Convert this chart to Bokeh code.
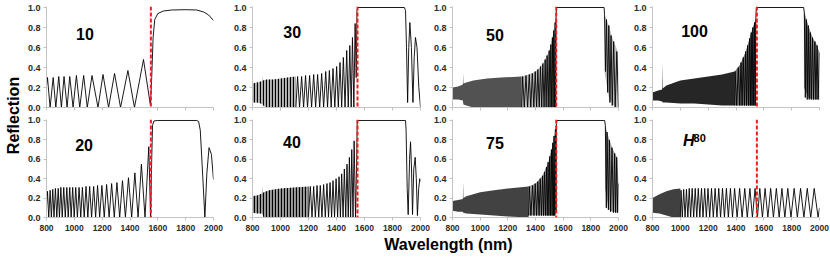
import math
from bokeh.plotting import figure
from bokeh.layouts import row, column
from bokeh.models import Range1d, FixedTicker, PrintfTickFormatter, Span, Label
from bokeh.embed import file_html
from bokeh.resources import INLINE

# ---------------- data ----------------
x_ticks = [800, 1000, 1200, 1400, 1600, 1800, 2000]
y_ticks = [0.0, 0.2, 0.4, 0.6, 0.8, 1.0]
marker_nm = 1550

# panel "10"
wl_10 = [800, 807, 826, 848, 867, 888, 907, 926, 948, 967, 991, 1015, 1039, 1067, 1093, 1127, 1170,
         1206, 1246, 1289, 1332, 1385, 1432, 1497, 1547, 1556, 1566, 1578, 1600, 1640, 1700, 1800,
         1880, 1930, 1965, 2000]
r_10 = [0.22, 0.30, 0.0, 0.30, 0.0, 0.31, 0.0, 0.31, 0.0, 0.31, 0.0, 0.32, 0.0, 0.32, 0.0, 0.32, 0.0,
        0.33, 0.0, 0.34, 0.0, 0.37, 0.0, 0.48, 0.02, 0.30, 0.70, 0.88, 0.94, 0.965, 0.975, 0.978,
        0.975, 0.955, 0.925, 0.87]

# panel "20"
wl_20 = [800, 807, 816, 826, 835, 845, 854, 864, 874, 884, 893, 903, 913, 924, 935, 946, 956, 967,
         977, 988, 999, 1010, 1022, 1034, 1046, 1058, 1071, 1084, 1097, 1110, 1124, 1139, 1153, 1167,
         1182, 1198, 1215, 1232, 1250, 1268, 1287, 1306, 1326, 1346, 1367, 1389, 1412, 1435, 1458,
         1482, 1508, 1535, 1548, 1556, 1562, 1572, 1600, 1880, 1893, 1905, 1920, 1938, 1952, 1968,
         1985, 2000]
r_20 = [0.12, 0.27, 0.0, 0.28, 0.0, 0.29, 0.0, 0.30, 0.0, 0.30, 0.0, 0.31, 0.0, 0.31, 0.0, 0.31, 0.0,
        0.31, 0.0, 0.31, 0.0, 0.31, 0.0, 0.31, 0.0, 0.31, 0.0, 0.32, 0.0, 0.32, 0.0, 0.32, 0.0, 0.33,
        0.0, 0.33, 0.0, 0.34, 0.0, 0.35, 0.0, 0.36, 0.0, 0.38, 0.0, 0.41, 0.0, 0.46, 0.0, 0.55, 0.0,
        0.73, 0.0, 0.60, 0.95, 0.995, 1.0, 1.0, 0.99, 0.90, 0.50, 0.0, 0.45, 0.72, 0.65, 0.39]

# panel "30"
band_30_wl = [800, 830, 860, 872, 874, 876, 900, 950, 1000, 1050, 1110]
band_30_hi = [0.24, 0.25, 0.26, 0.27, 0.32, 0.27, 0.28, 0.28, 0.29, 0.30, 0.31]
band_30_lo = [0.05, 0.05, 0.04, 0.03, 0.03, 0.02, 0.0, 0.0, 0.0, 0.0, 0.0]
wl_30 = [1110, 1122, 1136, 1151, 1165, 1179, 1193, 1208, 1222, 1237, 1251, 1265, 1280, 1294, 1308,
         1323, 1336, 1349, 1362, 1375, 1388, 1401, 1413, 1425, 1437, 1449, 1461, 1473, 1484, 1495,
         1505, 1514, 1524, 1533, 1541, 1546, 1552, 1885, 1893, 1900, 1908, 1916, 1924, 1935, 1946,
         1955, 1964, 1975, 1988, 2000]
r_30 = [0.0, 0.31, 0.0, 0.31, 0.0, 0.32, 0.0, 0.32, 0.0, 0.33, 0.0, 0.33, 0.0, 0.34, 0.0, 0.36, 0.0,
        0.37, 0.0, 0.39, 0.0, 0.41, 0.0, 0.45, 0.0, 0.50, 0.0, 0.57, 0.0, 0.62, 0.0, 0.70, 0.0, 0.84,
        0.30, 0.97, 1.0, 1.0, 0.97, 0.60, 0.05, 0.60, 0.85, 0.60, 0.05, 0.50, 0.70, 0.60, 0.20, 0.0]

# panel "40"
band_40_wl = [800, 840, 870, 872, 874, 880, 920, 1000, 1100, 1200]
band_40_hi = [0.22, 0.23, 0.25, 0.33, 0.25, 0.26, 0.28, 0.30, 0.31, 0.32]
band_40_lo = [0.05, 0.04, 0.04, 0.03, 0.02, 0.0, 0.0, 0.0, 0.0, 0.0]
wl_40 = [1200, 1213, 1225, 1237, 1249, 1261, 1273, 1284, 1296, 1308, 1320, 1332, 1343, 1354, 1365,
         1375, 1386, 1397, 1408, 1418, 1428, 1437, 1447, 1456, 1466, 1475, 1484, 1492, 1501, 1509,
         1518, 1526, 1536, 1543, 1548, 1893, 1897, 1905, 1912, 1922, 1929, 1936, 1943, 1952, 1962,
         1970, 1978, 1987, 1995, 2000]
r_40 = [0.0, 0.32, 0.0, 0.32, 0.0, 0.33, 0.0, 0.33, 0.0, 0.34, 0.0, 0.35, 0.0, 0.36, 0.0, 0.38, 0.0,
        0.40, 0.0, 0.42, 0.0, 0.45, 0.0, 0.50, 0.0, 0.55, 0.0, 0.62, 0.0, 0.70, 0.0, 0.79, 0.0, 0.50,
        1.0, 1.0, 0.90, 0.30, 0.03, 0.60, 0.78, 0.50, 0.03, 0.50, 0.62, 0.40, 0.02, 0.30, 0.40, 0.37]

# panel "50"
band_50_wl = [800, 840, 875, 877, 879, 900, 950, 1050, 1150, 1300]
band_50_hi = [0.20, 0.21, 0.23, 0.35, 0.24, 0.25, 0.27, 0.29, 0.30, 0.31]
band_50_lo = [0.08, 0.08, 0.07, 0.05, 0.03, 0.02, 0.0, 0.0, 0.0, 0.0]
edge_50_wl = [1300, 1350, 1400, 1450, 1500, 1530, 1548]
edge_50_hi = [0.31, 0.33, 0.36, 0.43, 0.57, 0.75, 0.93]
edge_50_lo = [0.0, 0.0, 0.0, 0.0, 0.0, 0.0, 0.0]
wl_50 = [1300, 1307, 1319, 1331, 1343, 1355, 1366, 1377, 1388, 1398, 1408, 1417, 1427, 1436, 1445,
         1453, 1462, 1470, 1477, 1484, 1492, 1499, 1505, 1511, 1517, 1522, 1527, 1532, 1537, 1542,
         1546, 1549, 1552, 1896, 1899, 1906, 1913, 1922, 1930, 1938, 1946, 1955, 1965, 1976, 1988,
         2000]
r_50 = [0.0, 0.31, 0.0, 0.32, 0.0, 0.33, 0.0, 0.34, 0.0, 0.36, 0.0, 0.38, 0.0, 0.41, 0.0, 0.44, 0.0,
        0.48, 0.0, 0.52, 0.0, 0.57, 0.0, 0.63, 0.0, 0.70, 0.0, 0.77, 0.0, 0.85, 0.0, 0.93, 1.0, 1.0,
        0.93, 0.36, 0.88, 0.15, 0.82, 0.05, 0.72, 0.02, 0.66, 0.0, 0.56, 0.0]
tail_50_wl = [1899, 1930, 1960, 1990, 2000]
tail_50_hi = [0.93, 0.82, 0.68, 0.58, 0.40]
tail_50_lo = [0.35, 0.10, 0.03, 0.0, 0.0]

# panel "75"
band_75_wl = [800, 840, 875, 877, 879, 900, 1000, 1100, 1200, 1350]
band_75_hi = [0.17, 0.18, 0.19, 0.37, 0.20, 0.22, 0.26, 0.28, 0.30, 0.32]
band_75_lo = [0.07, 0.06, 0.06, 0.05, 0.05, 0.04, 0.03, 0.02, 0.01, 0.0]
edge_75_wl = [1350, 1400, 1450, 1490, 1520, 1540, 1551]
edge_75_hi = [0.32, 0.35, 0.43, 0.56, 0.72, 0.88, 0.97]
edge_75_lo = [0.02, 0.02, 0.02, 0.02, 0.02, 0.02, 0.05]
wl_75 = [1350, 1355, 1367, 1379, 1389, 1398, 1408, 1417, 1426, 1434, 1443, 1451, 1458, 1465, 1472,
         1479, 1485, 1491, 1497, 1503, 1509, 1515, 1520, 1525, 1530, 1534, 1539, 1544, 1548, 1551,
         1555, 1900, 1905, 1912, 1917, 1927, 1934, 1943, 1953, 1963, 1972, 1979, 1987, 1994, 2000]
r_75 = [0.02, 0.32, 0.02, 0.33, 0.02, 0.35, 0.02, 0.37, 0.02, 0.40, 0.02, 0.43, 0.02, 0.47, 0.02,
        0.52, 0.02, 0.57, 0.02, 0.63, 0.02, 0.70, 0.02, 0.77, 0.02, 0.84, 0.02, 0.91, 0.05, 0.97,
        1.0, 1.0, 0.95, 0.10, 0.88, 0.08, 0.80, 0.06, 0.72, 0.05, 0.66, 0.05, 0.62, 0.05, 0.35]
tail_75_wl = [1902, 1930, 1960, 1990, 2000]
tail_75_hi = [0.96, 0.82, 0.70, 0.62, 0.40]
tail_75_lo = [0.30, 0.08, 0.06, 0.05, 0.05]

# panel "100"
band_100_wl = [800, 840, 869, 871, 873, 900, 1000, 1100, 1200, 1300, 1390]
band_100_hi = [0.15, 0.17, 0.18, 0.45, 0.19, 0.22, 0.27, 0.29, 0.31, 0.33, 0.36]
band_100_lo = [0.07, 0.07, 0.06, 0.06, 0.05, 0.05, 0.04, 0.04, 0.03, 0.02, 0.02]
edge_100_wl = [1390, 1430, 1470, 1500, 1520, 1540, 1545]
edge_100_hi = [0.36, 0.43, 0.56, 0.70, 0.80, 0.87, 0.88]
edge_100_lo = [0.02, 0.02, 0.02, 0.02, 0.02, 0.02, 0.02]
wl_100 = [1390, 1393, 1405, 1417, 1427, 1436, 1444, 1452, 1461, 1469, 1476, 1483, 1490, 1497, 1503,
          1509, 1515, 1521, 1527, 1533, 1538, 1542, 1546, 1886, 1891, 1898, 1905, 1912, 1919, 1926,
          1934, 1941, 1950, 1957, 1967, 1974, 1983, 1990, 2000]
r_100 = [0.02, 0.36, 0.02, 0.40, 0.02, 0.45, 0.02, 0.50, 0.02, 0.56, 0.02, 0.62, 0.02, 0.69, 0.02,
         0.75, 0.02, 0.80, 0.02, 0.85, 0.02, 0.88, 1.0, 1.0, 0.95, 0.10, 0.88, 0.08, 0.82, 0.08,
         0.75, 0.08, 0.70, 0.08, 0.66, 0.08, 0.62, 0.08, 0.55]
tail_100_wl = [1888, 1920, 1950, 1980, 2000]
tail_100_hi = [0.97, 0.82, 0.70, 0.63, 0.55]
tail_100_lo = [0.20, 0.10, 0.08, 0.08, 0.08]

# panel "H80"
band_h80_wl = [800, 850, 900, 950, 1000]
band_h80_hi = [0.20, 0.24, 0.27, 0.29, 0.30]
band_h80_lo = [0.05, 0.04, 0.02, 0.0, 0.0]
wl_h80 = [1000, 1005, 1014, 1024, 1034, 1044, 1054, 1064, 1074, 1085, 1096, 1107, 1118, 1129, 1140,
          1152, 1163, 1175, 1187, 1199, 1211, 1224, 1237, 1250, 1263, 1276, 1289, 1303, 1317, 1331,
          1345, 1360, 1375, 1390, 1408, 1426, 1444, 1463, 1481, 1500, 1518, 1537, 1554, 1571, 1590,
          1609, 1629, 1649, 1669, 1690, 1710, 1730, 1751, 1772, 1795, 1818, 1841, 1864, 1888, 1912,
          1937, 1962, 1990, 2000]
r_h80 = [0.0, 0.28, 0.0, 0.29, 0.0, 0.29, 0.0, 0.30, 0.0, 0.30, 0.0, 0.30, 0.0, 0.30, 0.0, 0.30,
         0.0, 0.30, 0.0, 0.30, 0.0, 0.30, 0.0, 0.30, 0.0, 0.30, 0.0, 0.30, 0.0, 0.30, 0.0, 0.30,
         0.0, 0.30, 0.0, 0.30, 0.0, 0.30, 0.0, 0.30, 0.0, 0.30, 0.0, 0.30, 0.0, 0.30, 0.0, 0.30,
         0.0, 0.30, 0.0, 0.30, 0.0, 0.30, 0.0, 0.30, 0.0, 0.30, 0.0, 0.30, 0.0, 0.30, 0.0, 0.10]

# ---------------- styling / layout ----------------
FONT = "Liberation Sans"
AX = "#c4c4c4"
TXT = "#2b2b2b"

# (width, min_border_left, min_border_right) per column
cols = [(204, 21, 15), (202, 24, 10), (200, 21, 12), (200, 20, 11)]
TOP_H, BOT_H = 115, 121

# row, col, label, dense areas [(wl, lo, hi, fill alpha, striped)], fringe line, label position
panels = [
    (0, 0, "10", [], (wl_10, r_10), (1012, 0.74)),
    (0, 1, "30", [(band_30_wl, band_30_lo, band_30_hi, 0.28, True)], (wl_30, r_30), (1020, 0.76)),
    (0, 2, "50", [(band_50_wl, band_50_lo, band_50_hi, 0.68, False),
                  (edge_50_wl, edge_50_lo, edge_50_hi, 0.25, False),
                  (tail_50_wl, tail_50_lo, tail_50_hi, 0.25, False)], (wl_50, r_50), (1042, 0.73)),
    (0, 3, "100", [(band_100_wl, band_100_lo, band_100_hi, 0.85, False),
                   (edge_100_wl, edge_100_lo, edge_100_hi, 0.55, False),
                   (tail_100_wl, tail_100_lo, tail_100_hi, 0.45, False)], (wl_100, r_100), (1006, 0.77)),
    (1, 0, "20", [], (wl_20, r_20), (1006, 0.75)),
    (1, 1, "40", [(band_40_wl, band_40_lo, band_40_hi, 0.38, True)], (wl_40, r_40), (1018, 0.78)),
    (1, 2, "75", [(band_75_wl, band_75_lo, band_75_hi, 0.74, False),
                  (edge_75_wl, edge_75_lo, edge_75_hi, 0.4, False),
                  (tail_75_wl, tail_75_lo, tail_75_hi, 0.35, False)], (wl_75, r_75), (1042, 0.77)),
    (1, 3, "H80", [(band_h80_wl, band_h80_lo, band_h80_hi, 0.75, False)], (wl_h80, r_h80), (1020, 0.79)),
]


def make_panel(r, c, label, areas, line, lpos):
    w, bl, br = cols[c]
    bottom = (r == 1)
    p = figure(width=w, height=BOT_H if bottom else TOP_H,
               min_border_left=bl, min_border_right=br,
               min_border_top=4 if bottom else 6, min_border_bottom=19 if bottom else 8,
               x_range=Range1d(800, 2000), y_range=Range1d(0, 1.01),
               output_backend="svg", toolbar_location=None,
               background_fill_color="white", border_fill_color="white",
               outline_line_color=None)
    p.grid.visible = False
    p.xaxis.ticker = FixedTicker(ticks=x_ticks)
    p.yaxis.ticker = FixedTicker(ticks=y_ticks)
    p.yaxis.formatter = PrintfTickFormatter(format="%.1f")
    for ax in (p.xaxis[0], p.yaxis[0]):
        ax.axis_line_color = AX
        ax.major_tick_line_color = AX
        ax.minor_tick_line_color = None
        ax.major_tick_in = 0
        ax.major_tick_out = 3
        ax.major_label_text_font = FONT
        ax.major_label_text_font_style = "bold"
        ax.major_label_text_color = TXT
    p.yaxis.major_label_text_font_size = "9px"
    p.yaxis.major_label_standoff = 3
    if bottom:
        p.xaxis.major_label_text_font_size = "8.5px"
        p.xaxis.major_label_standoff = 4
    else:
        p.xaxis.major_label_text_font_size = "4px"
        p.xaxis.major_label_text_color = None
        p.xaxis.major_label_standoff = 0

    for fx, flo, fhi, alpha, striped in areas:
        if striped:
            # vertical stripes first, then a translucent dark wash on top
            p.varea(x=fx, y1=flo, y2=fhi, fill_color=None,
                    hatch_pattern="vertical_line", hatch_color="black", hatch_alpha=1.0,
                    hatch_scale=3, hatch_weight=1.2)
        p.varea(x=fx, y1=flo, y2=fhi, fill_color="black", fill_alpha=alpha)
    lx, ly = line
    p.line(lx, ly, line_color="black", line_width=0.9)

    p.add_layout(Span(location=marker_nm, dimension="height", line_color="#ff1a1a",
                      line_width=2, line_dash="4 2"))

    if label == "H80":
        p.add_layout(Label(x=lpos[0], y=lpos[1], text="H", text_font=FONT,
                           text_font_style="bold italic", text_font_size="16px",
                           text_baseline="middle", text_color="black"))
        p.add_layout(Label(x=lpos[0] + 75, y=lpos[1] + 0.03, text="80", text_font=FONT,
                           text_font_style="bold", text_font_size="11px",
                           text_baseline="middle", text_color="black"))
    else:
        p.add_layout(Label(x=lpos[0], y=lpos[1], text=label, text_font=FONT,
                           text_font_style="bold", text_font_size="16px",
                           text_baseline="middle", text_color="black"))
    return p


figs = {}
for spec in panels:
    figs[(spec[0], spec[1])] = make_panel(*spec)

# y-axis title
YH = TOP_H + BOT_H
ylab = figure(width=24, height=YH, x_range=Range1d(0, 24),
              y_range=Range1d(0, YH), x_axis_type=None, y_axis_type=None,
              min_border=0, output_backend="svg", toolbar_location=None,
              outline_line_color=None)
ylab.grid.visible = False
ylab.add_layout(Label(x=12.5, y=YH - 115, text="Reflection", angle=math.pi / 2, text_font=FONT,
                      text_font_style="bold", text_font_size="16px", text_align="center",
                      text_baseline="middle", text_color="black"))

# x-axis title
xlab = figure(width=830, height=30, x_range=Range1d(0, 830), y_range=Range1d(0, 30),
              x_axis_type=None, y_axis_type=None, min_border=0, output_backend="svg",
              toolbar_location=None, outline_line_color=None)
xlab.grid.visible = False
xlab.add_layout(Label(x=448, y=22, text="Wavelength (nm)", text_font=FONT,
                      text_font_style="bold", text_font_size="16px", text_align="center",
                      text_baseline="middle", text_color="black"))

grid = column(row(*[figs[(0, c)] for c in range(4)]),
              row(*[figs[(1, c)] for c in range(4)]))
layout = column(row(ylab, grid), xlab)

open("out.html", "w").write(file_html(layout, INLINE, "Reflection spectra"))
